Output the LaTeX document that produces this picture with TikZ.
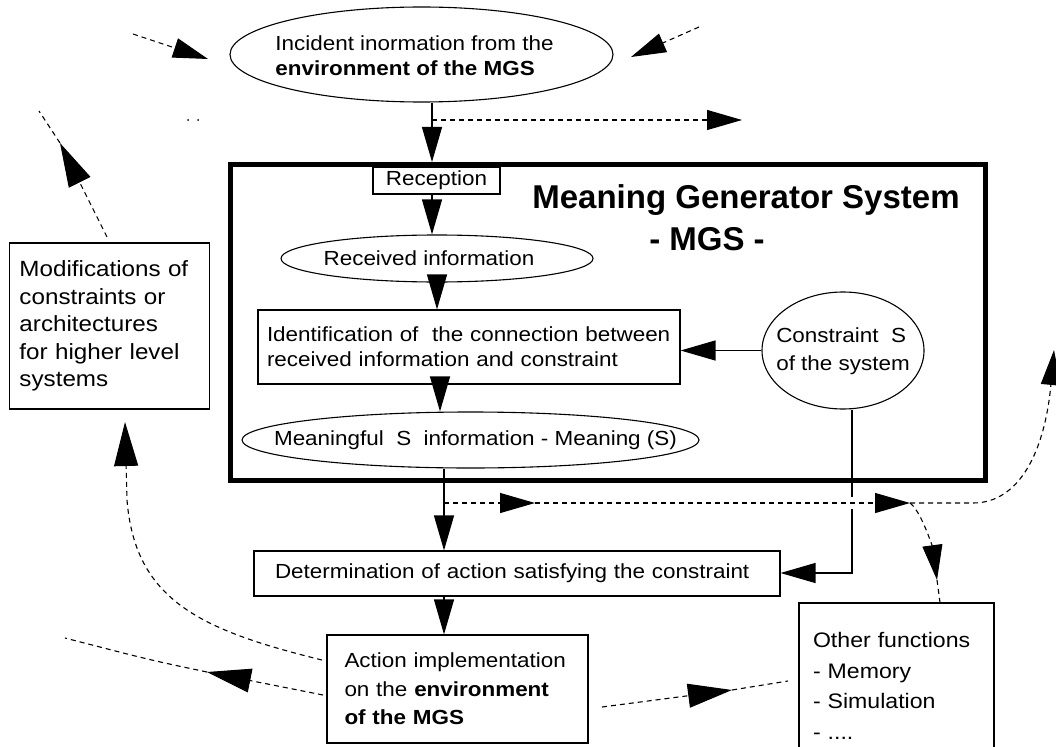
\documentclass[tikz,border=0pt]{standalone}
\usepackage{fontspec}
\setmainfont{Liberation Sans}[FakeStretch=1.1]
\newfontfamily\titlefont{Liberation Sans}
\usetikzlibrary{arrows.meta,shapes.geometric}
\newcommand{\zw}[2][0pt]{\makebox[0pt][c]{\hspace*{#1}#2}}
\tikzset{
  Tria/.tip={Triangle[length=35pt,width=20pt]},
  BigTria/.tip={Triangle[length=44pt,width=24pt]},
  lnbase/.style={draw=black,line width=1.1pt},
  boxn/.style={lnbase,rectangle,inner sep=0pt},
  elln/.style={lnbase,ellipse,inner sep=0pt},
  conn/.style={line width=1.2pt},
  dashn/.style={line width=1.1pt,dash pattern=on 5pt off 4pt},
}
\begin{document}
\begin{tikzpicture}[x=1pt,y=-1pt,
  every node/.style={font=\fontsize{20.4}{25}\selectfont,text=black}]
\useasboundingbox (0,0) rectangle (1056,746);
\clip (0,0) rectangle (1056,746);
\fill[white] (0,0) rectangle (1056,746);

% ---- nodes ----
\node[elln,minimum width=383pt,minimum height=95pt] (inc) at (421.5,54.5)
  {\zw[-14pt]{\raisebox{-9pt}[0pt][0pt]{\begin{tabular}{@{}l@{}}Incident inormation from the\\\textbf{environment of the MGS}\end{tabular}}}};

\node[draw=black,line width=5pt,rectangle,inner sep=0pt,minimum width=754.5pt,minimum height=315.5pt] (mgs) at (607.75,322.25) {};

\node[anchor=base,font=\titlefont\bfseries\fontsize{33}{40}\selectfont] (title) at (746,208) {Meaning Generator System};
\node[anchor=base,font=\titlefont\bfseries\fontsize{33}{40}\selectfont] (mgsl) at (707,250) {- MGS -};

\node[boxn,minimum width=127pt,minimum height=27pt] (rec) at (436.5,180.5) {Reception};

\node[elln,minimum width=312pt,minimum height=47pt] (recinfo) at (437,258.5)
  {\zw[-16pt]{Received information}};

\node[boxn,minimum width=422pt,minimum height=74pt,text width=404pt,align=left] (ident) at (469,347)
  {Identification of~ the connection between\\received information and constraint};

\node[elln,minimum width=162pt,minimum height=117pt,font=\fontsize{20.4}{28}\selectfont] (cons) at (843,350.5)
  {\zw{\begin{tabular}{@{}l@{}}Constraint~ S\\of the system\end{tabular}}};

\node[elln,minimum width=457pt,minimum height=56pt] (mean) at (470.5,440)
  {\zw[10pt]{Meaningful~ S~ information - Meaning (S)}};

\node[boxn,minimum width=526pt,minimum height=45pt,text width=484pt,align=left] (det) at (517,573.5)
  {Determination of action satisfying the constraint};

\node[boxn,minimum width=261pt,minimum height=108pt,text width=226pt,align=left,font=\fontsize{20.4}{28.5}\selectfont] (act) at (457.5,689)
  {Action implementation\\on the \textbf{environment}\\\textbf{of the MGS}};

\node[boxn,minimum width=200pt,minimum height=166pt,text width=180pt,align=left,font=\fontsize{22}{27.5}\selectfont] (mod) at (109.5,326)
  {Modifications of\\constraints or\\architectures\\for higher level\\systems};

\node[boxn,minimum width=195pt,minimum height=166pt,text width=167pt,align=left,font=\fontsize{21}{30.5}\selectfont] (oth) at (896.5,686)
  {Other functions\\- Memory\\- Simulation\\- ....};

% ---- coordinates ----
\coordinate (j1) at (432,120);
\coordinate (topout) at (742,120);
\coordinate (x440) at (440,412);
\coordinate (j2) at (444,503);
\coordinate (m1) at (535,503);
\coordinate (m2) at (910,503);
\coordinate (m3) at (973,503);
\coordinate (rightout) at (1054,350);
\coordinate (m4) at (937,580);
\coordinate (x940) at (940,600);
\coordinate (k) at (852,573);
\coordinate (a1) at (602,707);
\coordinate (a2) at (732,690);
\coordinate (a3) at (788,681);
\coordinate (b0) at (322,660);
\coordinate (c1) at (127,500);
\coordinate (c2) at (125,422);
\coordinate (d0) at (323,695);
\coordinate (d1) at (207,672);
\coordinate (d2) at (65,638);
\coordinate (e0) at (107,237);
\coordinate (e1) at (60,143);
\coordinate (e2) at (39,111);
\coordinate (f0) at (133,34);
\coordinate (f1) at (208,59);
\coordinate (g0) at (699,27);
\coordinate (g1) at (631,57);

% ---- solid connectors ----
\draw[conn,-{Tria}] (inc.south -| j1) -- (j1) -- (j1 |- mgs.north);
\draw[conn,-{Tria}] (rec.south -| j1) -- (recinfo.north -| j1);
\draw[conn,-{Tria}] (recinfo.south) -- (recinfo.south |- ident.north);
\draw[conn,-{Tria}] (cons.west) -- (cons.west -| ident.east);
\draw[conn,-{Tria}] (ident.south -| x440) -- (mean.north -| x440);
\draw[conn,-{Tria}] (mean.south -| j2) -- (det.north -| j2);
\draw[conn,-{Tria}] (det.south -| j2) -- (act.north -| j2);
\draw[conn,-{Tria}] (cons.south -| k) -- (k) -- (det.east |- k);

% ---- dashed connectors ----
\draw[dashn,-{Tria}] (j1) -- (topout);
\fill[white] (846,497) rectangle (858,509);
\draw[dashn,-{Tria}] (j2) -- (m1);
\draw[dashn,-{Tria}] (m1) -- (m2);
\draw[dashn,-{Tria}] (m2) -- (m3) .. controls (1020,503) and (1045,450) .. (rightout);
\draw[dashn,-{Tria}] (m2) .. controls (922,512) and (933,550) .. (m4);
\draw[dashn] (m4) -- (oth.north -| x940);
\draw[dashn,-{BigTria}] (a1) -- (a2);
\draw[dashn] (a2) -- (a3);
\draw[dashn,-{BigTria}] (b0) .. controls (200,630) and (135,600) .. (c1) -- (c2);
\draw[dashn,-{BigTria}] (d0) -- (d1);
\draw[dashn] (d1) .. controls (150,660) .. (d2);
\draw[dashn,-{BigTria}] (e0) -- (e1);
\draw[dashn] (e1) -- (e2);
\draw[dashn,-{Tria}] (f0) -- (f1);
\draw[dashn,-{Tria}] (g0) -- (g1);

\fill (188,120) circle (1pt);
\fill (198,120) circle (1pt);
\end{tikzpicture}
\end{document}
